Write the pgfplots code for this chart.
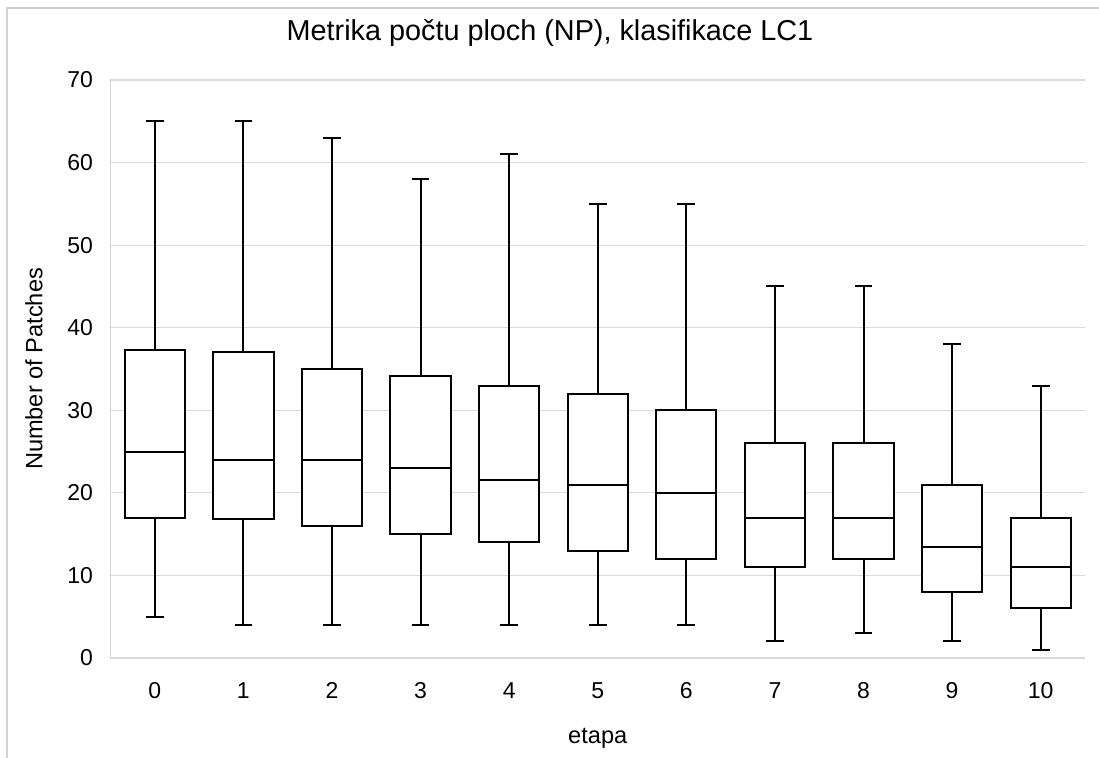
\documentclass[border=0pt]{standalone}
\usepackage{fontspec}
\setmainfont{Liberation Sans}
\usepackage{pgfplots}
\pgfplotsset{compat=1.18}
\usepgfplotslibrary{statistics}
\begin{document}
\begin{tikzpicture}
\useasboundingbox (-55.25pt,-50pt) rectangle (494.25pt,329pt);
\draw[black!18, line width=0.6pt] (-51.75pt,-60pt) -- (-51.75pt,325pt) -- (600pt,325pt);
\begin{axis}[
  at={(0,0)}, anchor=south west,
  scale only axis, width=487.25pt, height=289pt,
  xmin=-0.5, xmax=10.5, ymin=0, ymax=70,
  ytick={0,10,...,70}, xtick={0,1,...,10},
  ymajorgrids, grid style={black!15, line width=0.6pt},
  axis x line=bottom, axis y line=left,
  axis line style={black!15, line width=0.6pt, -},
  major tick length=0pt,
  tick label style={font=\fontsize{11.5}{13}\selectfont, text=black},
  /pgf/number format/assume math mode=true,
  yticklabel style={xshift=-5.2pt},
  xticklabel style={yshift=-8.6pt},
  title={Metrika počtu ploch (NP), klasifikace LC1},
  title style={at={(axis description cs:0.451,1.0606)}, anchor=center, font=\fontsize{14.4}{16}\selectfont, text=black},
  xlabel={etapa},
  xlabel style={at={(axis description cs:0.5,-0.1384)}, anchor=center, font=\fontsize{11.8}{13}\selectfont, text=black},
  ylabel={Number of Patches},
  ylabel style={at={(axis description cs:-0.0785,0.5)}, anchor=center, rotate=0, font=\fontsize{11.8}{13}\selectfont, text=black},
  boxplot/draw direction=y,
  boxplot/box extend=0.68,
  boxplot/whisker extend=0.2,
  every axis plot/.append style={black, line width=1pt, fill=white},
]
\addplot[boxplot prepared={draw position=0, lower whisker=5, lower quartile=17, median=25, upper quartile=37.3, upper whisker=65}] coordinates {};
\addplot[boxplot prepared={draw position=1, lower whisker=4, lower quartile=16.8, median=24, upper quartile=37, upper whisker=65}] coordinates {};
\addplot[boxplot prepared={draw position=2, lower whisker=4, lower quartile=16, median=24, upper quartile=35, upper whisker=63}] coordinates {};
\addplot[boxplot prepared={draw position=3, lower whisker=4, lower quartile=15, median=23, upper quartile=34.2, upper whisker=58}] coordinates {};
\addplot[boxplot prepared={draw position=4, lower whisker=4, lower quartile=14, median=21.5, upper quartile=33, upper whisker=61}] coordinates {};
\addplot[boxplot prepared={draw position=5, lower whisker=4, lower quartile=13, median=21, upper quartile=32, upper whisker=55}] coordinates {};
\addplot[boxplot prepared={draw position=6, lower whisker=4, lower quartile=12, median=20, upper quartile=30, upper whisker=55}] coordinates {};
\addplot[boxplot prepared={draw position=7, lower whisker=2, lower quartile=11, median=17, upper quartile=26, upper whisker=45}] coordinates {};
\addplot[boxplot prepared={draw position=8, lower whisker=3, lower quartile=12, median=17, upper quartile=26, upper whisker=45}] coordinates {};
\addplot[boxplot prepared={draw position=9, lower whisker=2, lower quartile=8, median=13.5, upper quartile=21, upper whisker=38}] coordinates {};
\addplot[boxplot prepared={draw position=10, lower whisker=1, lower quartile=6, median=11, upper quartile=17, upper whisker=33}] coordinates {};
\end{axis}
\end{tikzpicture}
\end{document}
